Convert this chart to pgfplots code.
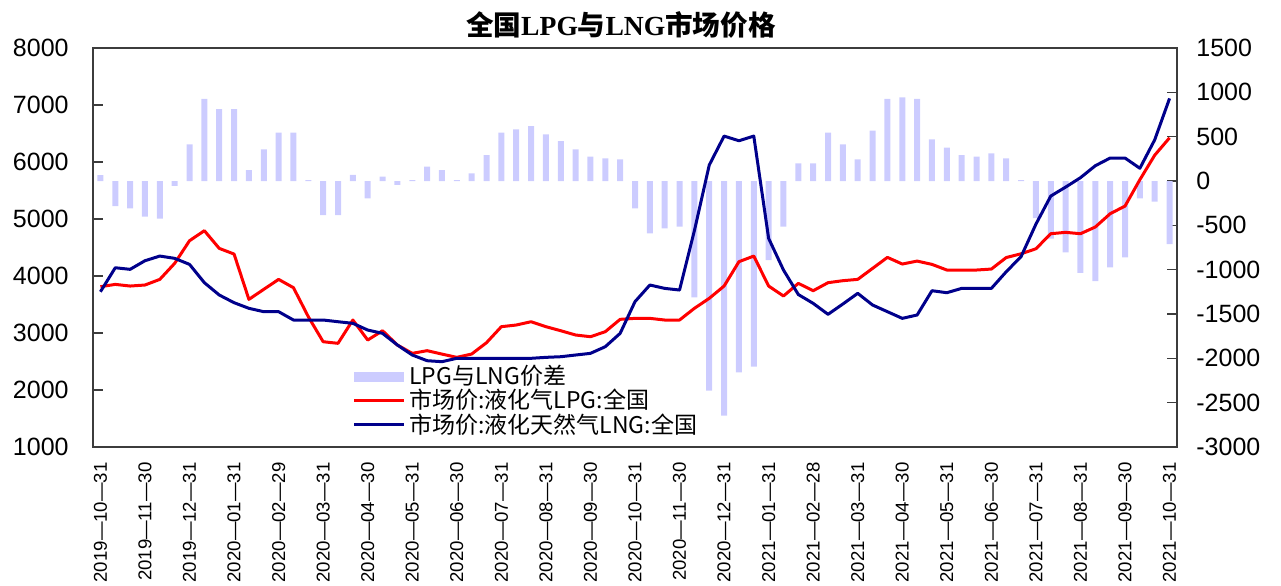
\documentclass[border=0pt]{standalone}
\usepackage{pgfplots}
\pgfplotsset{compat=1.18}
\usepackage{fontspec}
\setmainfont{Liberation Sans}
\newfontfamily\cjk{Noto Sans CJK SC}
\newfontfamily\titleserif{Liberation Serif}
\definecolor{barcol}{RGB}{204,204,255}
\definecolor{lpgred}{RGB}{255,0,0}
\definecolor{lngblue}{RGB}{0,0,139}
\definecolor{framecol}{RGB}{60,60,60}
\pgfplotsset{
  common/.style={
    scale only axis, width=542pt, height=199.5pt,
    xmin=-0.5, xmax=72.5,
    axis line style={framecol, line width=0.8pt},
    major tick length=5pt,
    tick style={framecol, line width=0.8pt},
    tick align=inside,
    scaled y ticks=false,
    /pgf/number format/1000 sep={},
    /pgf/number format/assume math mode=true,
    yticklabel style={font=\fontsize{12.5}{12.5}\selectfont, inner sep=0pt},
  }
}
\begin{document}
\begin{tikzpicture}
\useasboundingbox (-46.5pt,-69pt) rectangle (594pt,223.5pt);
% right axis: price difference bars
\begin{axis}[common,
  ymin=-3000, ymax=1500,
  ytick={-3000,-2500,...,1500},
  xtick=\empty,
  ytick pos=right, yticklabel pos=right,
  yticklabel style={anchor=west},
  yticklabel shift=9.5pt,
]
\addplot[ybar, bar width=3pt, fill=barcol, draw=none] coordinates {
(0,65) (1,-282) (2,-308) (3,-402) (4,-425) (5,-56) (6,414) (7,925) (8,812) (9,812)
(10,124) (11,357) (12,545) (13,545) (14,10) (15,-384) (16,-384) (17,68) (18,-195) (19,49)
(20,-45) (21,11) (22,162) (23,124) (24,10) (25,86) (26,293) (27,545) (28,583) (29,620)
(30,526) (31,451) (32,357) (33,274) (34,256) (35,244) (36,-308) (37,-590) (38,-534) (39,-515)
(40,-1312) (41,-2365) (42,-2647) (43,-2158) (44,-2094) (45,-891) (46,-515) (47,199) (48,199) (49,545)
(50,414) (51,244) (52,568) (53,925) (54,944) (55,925) (56,470) (57,376) (58,293) (59,274)
(60,312) (61,256) (62,10) (63,-420) (64,-650) (65,-805) (66,-1035) (67,-1129) (68,-975) (69,-861)
(70,-196) (71,-233) (72,-711)
};
\end{axis}
% left axis: prices
\begin{axis}[common,
  ymin=1000, ymax=8000,
  ytick={1000,2000,...,8000},
  ytick pos=left,
  yticklabel style={anchor=east},
  yticklabel shift=12pt,
  xtick={0,3,...,72},
  x tick style={draw=none},
  xticklabels={2019---10---31,2019---11---30,2019---12---31,2020---01---31,2020---02---29,2020---03---31,2020---04---30,2020---05---31,2020---06---30,2020---07---31,2020---08---31,2020---09---30,2020---10---31,2020---11---30,2020---12---31,2021---01---31,2021---02---28,2021---03---31,2021---04---30,2021---05---31,2021---06---30,2021---07---31,2021---08---31,2021---09---30,2021---10---31},
  xticklabel style={rotate=90, anchor=east, inner sep=0pt, font=\fontsize{9.3}{9.3}\selectfont},
  xticklabel shift=7.5pt,
  title={\cjk\bfseries 全国{\titleserif\bfseries LPG}与{\titleserif\bfseries LNG}市场价格},
  title style={at={(0.487,1)}, anchor=base, yshift=0.5pt, font=\fontsize{13.8}{13.8}\selectfont},
  legend style={at={(0.2307,0.2155)}, anchor=north west, draw=none, fill=none,
    font=\cjk\fontsize{11.5}{11.5}\selectfont,
    nodes={inner sep=0pt, anchor=west}, row sep=0.8pt, column sep=0pt},
  legend cell align=left,
  legend image code/.code={\draw[#1] (0pt,0pt) -- (25pt,0pt);},
]
\addlegendimage{color=barcol, line width=5pt}
\addlegendentry{LPG与LNG价差}
\addplot[lpgred, line width=1.5pt, line join=round] coordinates {
(0,3812) (1,3853) (2,3824) (3,3842) (4,3941) (5,4222) (6,4619) (7,4795) (8,4485) (9,4385)
(10,3590) (11,3766) (12,3941) (13,3795) (14,3286) (15,2847) (16,2819) (17,3228) (18,2877) (19,3040)
(20,2789) (21,2643) (22,2690) (23,2630) (24,2573) (25,2631) (26,2830) (27,3111) (28,3140) (29,3198)
(30,3111) (31,3040) (32,2965) (33,2935) (34,3023) (35,3240) (36,3257) (37,3257) (38,3228) (39,3228)
(40,3433) (41,3608) (42,3824) (43,4251) (44,4350) (45,3824) (46,3649) (47,3871) (48,3742) (49,3883)
(50,3918) (51,3941) (52,4134) (53,4327) (54,4210) (55,4262) (56,4204) (57,4105) (58,4105) (59,4105)
(60,4122) (61,4324) (62,4390) (63,4478) (64,4742) (65,4766) (66,4742) (67,4860) (68,5093) (69,5227)
(70,5690) (71,6120) (72,6425)
};
\addlegendentry{市场价:液化气LPG:全国}
\addplot[lngblue, line width=1.5pt, line join=round] coordinates {
(0,3724) (1,4145) (2,4117) (3,4268) (4,4350) (5,4310) (6,4204) (7,3883) (8,3667) (9,3532)
(10,3433) (11,3374) (12,3374) (13,3228) (14,3228) (15,3228) (16,3198) (17,3170) (18,3052) (19,2994)
(20,2789) (21,2614) (22,2514) (23,2497) (24,2556) (25,2556) (26,2556) (27,2556) (28,2556) (29,2556)
(30,2573) (31,2584) (32,2614) (33,2643) (34,2760) (35,2994) (36,3550) (37,3842) (38,3783) (39,3754)
(40,4795) (41,5946) (42,6455) (43,6373) (44,6455) (45,4660) (46,4105) (47,3675) (48,3520) (49,3328)
(50,3509) (51,3696) (52,3491) (53,3374) (54,3257) (55,3316) (56,3742) (57,3707) (58,3783) (59,3783)
(60,3783) (61,4075) (62,4340) (63,4910) (64,5403) (65,5560) (66,5725) (67,5935) (68,6070) (69,6070)
(70,5890) (71,6390) (72,7116)
};
\addlegendentry{市场价:液化天然气LNG:全国}
\end{axis}
\end{tikzpicture}
\end{document}
